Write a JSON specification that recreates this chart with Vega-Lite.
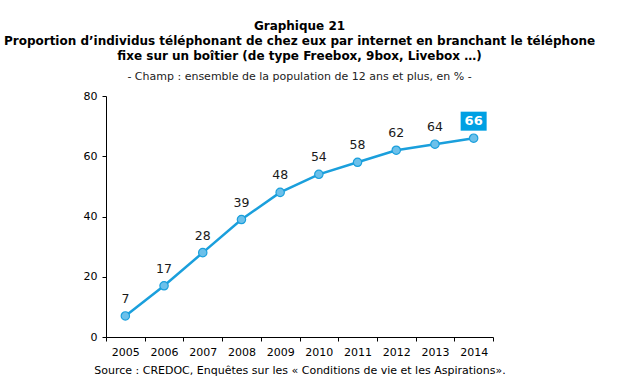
{
  "$schema": "https://vega.github.io/schema/vega-lite/v6.json",
  "width": 387,
  "height": 241,
  "autosize": {"type": "none"},
  "padding": {"left": 106, "top": 96, "right": 135, "bottom": 54},
  "background": "white",
  "config": {
    "view": {"stroke": null},
    "font": "DejaVu Sans"
  },
  "title": {
    "text": ["Graphique 21", "Proportion d’individus téléphonant de chez eux par internet en branchant le téléphone", "fixe sur un boîtier (de type Freebox, 9box, Livebox …)"],
    "subtitle": "- Champ : ensemble de la population de 12 ans et plus, en % -",
    "anchor": "middle",
    "frame": "group",
    "font": "DejaVu Sans",
    "fontSize": 12,
    "fontWeight": "bold",
    "color": "#000000",
    "lineHeight": 15,
    "subtitleFont": "DejaVu Sans",
    "subtitleFontSize": 11,
    "subtitleColor": "#222222",
    "subtitlePadding": 8,
    "offset": 7
  },
  "data": {
    "values": [
      {"year": "2005", "value": 7},
      {"year": "2006", "value": 17},
      {"year": "2007", "value": 28},
      {"year": "2008", "value": 39},
      {"year": "2009", "value": 48},
      {"year": "2010", "value": 54},
      {"year": "2011", "value": 58},
      {"year": "2012", "value": 62},
      {"year": "2013", "value": 64},
      {"year": "2014", "value": 66}
    ]
  },
  "encoding": {
    "x": {
      "field": "year",
      "type": "ordinal",
      "scale": {"paddingInner": 0, "paddingOuter": 0},
      "axis": {
        "labelAngle": 0,
        "tickBand": "extent",
        "domainColor": "#000000",
        "tickColor": "#000000",
        "tickSize": 4,
        "labelPadding": 5,
        "labelFont": "DejaVu Sans",
        "labelFontSize": 11,
        "labelColor": "#000000",
        "title": "Source : CREDOC, Enquêtes sur les « Conditions de vie et les Aspirations».",
        "titleFont": "DejaVu Sans",
        "titleFontSize": 11,
        "titleFontWeight": "normal",
        "titleColor": "#000000",
        "titlePadding": 7
      }
    },
    "y": {
      "field": "value",
      "type": "quantitative",
      "scale": {"domain": [0, 80]},
      "axis": {
        "values": [0, 20, 40, 60, 80],
        "grid": false,
        "domainColor": "#000000",
        "tickColor": "#000000",
        "tickSize": 4,
        "labelPadding": 5,
        "labelFont": "DejaVu Sans",
        "labelFontSize": 11,
        "labelColor": "#000000",
        "title": null
      }
    }
  },
  "layer": [
    {
      "mark": {"type": "line", "color": "#1a9fdc", "strokeWidth": 2.5}
    },
    {
      "mark": {"type": "point", "filled": true, "fill": "#6cc0ea", "stroke": "#1a9fdc", "strokeWidth": 1.2, "size": 70, "opacity": 1}
    },
    {
      "transform": [{"filter": "datum.year != '2014'"}],
      "mark": {"type": "text", "dy": -17, "fontSize": 12.5, "color": "#1a1a1a", "font": "DejaVu Sans"},
      "encoding": {"text": {"field": "value", "type": "quantitative"}}
    },
    {
      "transform": [{"filter": "datum.year == '2014'"}],
      "mark": {"type": "point", "shape": "M-1.3,-0.95L1.3,-0.95L1.3,0.95L-1.3,0.95Z", "size": 400, "filled": true, "fill": "#00a0e3", "strokeWidth": 0, "opacity": 1, "yOffset": -17}
    },
    {
      "transform": [{"filter": "datum.year == '2014'"}],
      "mark": {"type": "text", "dy": -17, "fontSize": 13, "fontWeight": "bold", "color": "#ffffff", "font": "DejaVu Sans"},
      "encoding": {"text": {"field": "value", "type": "quantitative"}}
    }
  ]
}
